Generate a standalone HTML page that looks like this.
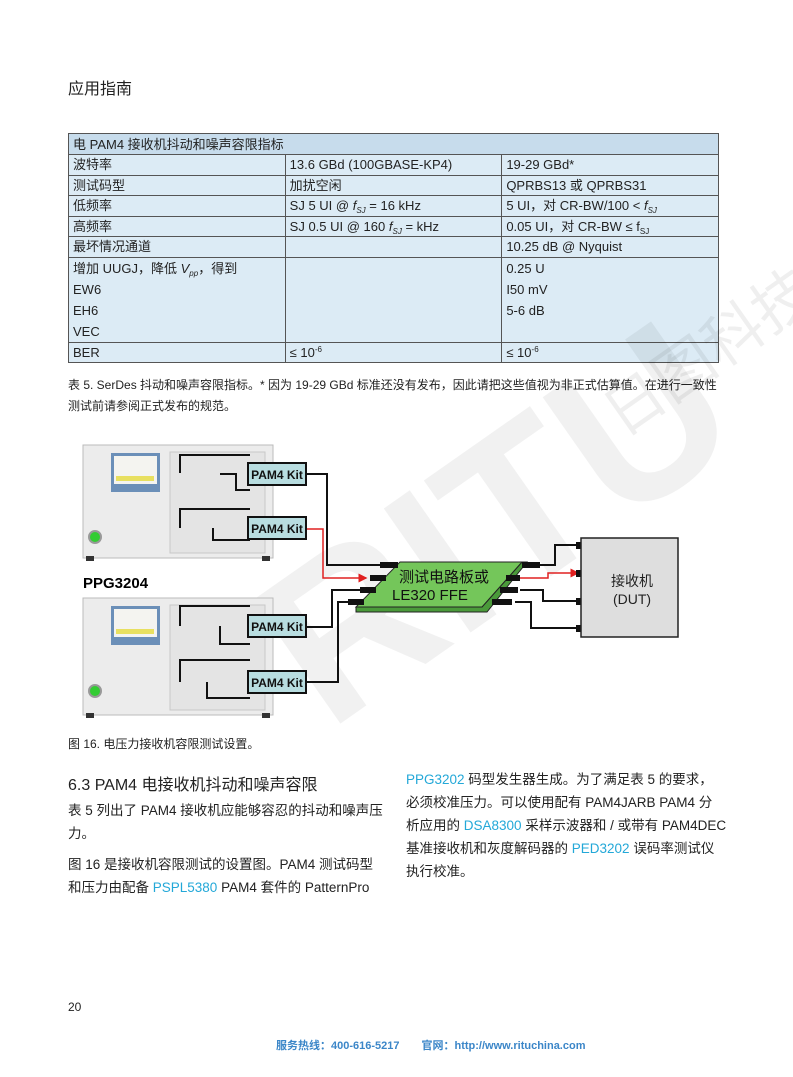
<!DOCTYPE html>
<html><head><meta charset="utf-8">
<style>
body{margin:0;background:#fff;}
#p{position:relative;width:793px;height:1077px;overflow:hidden;font-family:"Liberation Sans","Noto Sans CJK SC",sans-serif;color:#222;}
.a{position:absolute;white-space:nowrap;}
table{position:absolute;left:68px;top:133px;width:651px;border-collapse:collapse;font-size:13px;table-layout:fixed;}
td{border:1.5px solid #555;background:#dcebf5;padding:0 4px;height:19.5px;vertical-align:middle;line-height:19px;overflow:hidden;white-space:nowrap;}
td.h{background:#c7dcec;}
.s{font-size:8px;position:relative;top:3px;line-height:0;}
.u{font-size:8px;position:relative;top:-5px;line-height:0;}
.b{color:#23a8d8;}
.bd{font-size:13.5px;line-height:23px;}
</style></head><body><div id="p">
<div class="a" style="left:68px;top:75px;font-size:16px;">应用指南</div>
<table>
<tr><td class="h" colspan="3" style="height:20px">电 PAM4 接收机抖动和噪声容限指标</td></tr>
<tr><td style="width:208px">波特率</td><td style="width:209px">13.6 GBd (100GBASE-KP4)</td><td>19-29 GBd*</td></tr>
<tr><td>测试码型</td><td>加扰空闲</td><td>QPRBS13 或 QPRBS31</td></tr>
<tr><td>低频率</td><td>SJ 5 UI @ <i>f<span class="s">SJ</span></i> = 16 kHz</td><td>5 UI，对 CR-BW/100 &lt; <i>f<span class="s">SJ</span></i></td></tr>
<tr><td>高频率</td><td>SJ 0.5 UI @ 160 <i>f<span class="s">SJ</span></i> = kHz</td><td>0.05 UI，对 CR-BW ≤ f<span class="s">SJ</span></td></tr>
<tr><td>最坏情况通道</td><td></td><td>10.25 dB @ Nyquist</td></tr>
<tr><td style="vertical-align:top;line-height:21px;height:83px">增加 UUGJ，降低 <i>V<span class="s">pp</span></i>，得到<br>EW6<br>EH6<br>VEC</td><td></td><td style="vertical-align:top;line-height:21px">0.25 U<br>I50 mV<br>5-6 dB</td></tr>
<tr><td>BER</td><td>≤ 10<span class="u">-6</span></td><td>≤ 10<span class="u">-6</span></td></tr>
</table>
<div class="a" style="left:68px;top:375px;font-size:12px;line-height:21px;">表 5. SerDes 抖动和噪声容限指标。* 因为 19-29 GBd 标准还没有发布，因此请把这些值视为非正式估算值。在进行一致性<br>测试前请参阅正式发布的规范。</div>

<svg class="a" style="left:0;top:0" width="793" height="1077">
<defs><marker id="ar" markerWidth="6" markerHeight="6" refX="5" refY="3" orient="auto"><path d="M0,0L6,3L0,6z" fill="#e02020"/></marker></defs>
<g opacity="0.05" fill="#000" font-family="Liberation Sans,sans-serif" font-weight="bold">
<text x="230" y="700" font-size="220" transform="rotate(-35 330 560)">RITU</text>
</g>
<text x="560" y="420" font-size="60" fill="#000" opacity="0.06" font-family="Noto Sans CJK SC,sans-serif" transform="rotate(-35 620 330)">日图科技</text>
<g>
<rect x="83" y="445" width="190" height="113" fill="#ececec" stroke="#bbb"/>
<rect x="111" y="453" width="49" height="39" fill="#6b8fb8"/><rect x="114" y="456" width="43" height="28" fill="#f4f4f0"/>
<rect x="116" y="476" width="38" height="5" fill="#e8e060"/>
<rect x="170" y="452" width="95" height="101" fill="#e4e4e4" stroke="#c8c8c8"/>
<circle cx="95" cy="537" r="6" fill="#3c3" stroke="#999" stroke-width="2"/>
<rect x="86" y="556" width="8" height="5" fill="#333"/><rect x="262" y="556" width="8" height="5" fill="#333"/>
<rect x="83" y="598" width="190" height="117" fill="#ececec" stroke="#bbb"/>
<rect x="111" y="606" width="49" height="39" fill="#6b8fb8"/><rect x="114" y="609" width="43" height="28" fill="#f4f4f0"/>
<rect x="116" y="629" width="38" height="5" fill="#e8e060"/>
<rect x="170" y="605" width="95" height="105" fill="#e4e4e4" stroke="#c8c8c8"/>
<circle cx="95" cy="691" r="6" fill="#3c3" stroke="#999" stroke-width="2"/>
<rect x="86" y="713" width="8" height="5" fill="#333"/><rect x="262" y="713" width="8" height="5" fill="#333"/>
</g>
<g fill="none" stroke="#111" stroke-width="2">
<path d="M180,473V455H250M220,474H236V490H250"/>
<path d="M180,528V509H250M213,528V540H250"/>
<path d="M180,626V606H250M220,626V644H250"/>
<path d="M180,682V660H250M207,682V698H250"/>
<path d="M307,474H327V565H382"/>
<path d="M307,627H332V590H362"/>
<path d="M307,682H338V602H350"/>
<path d="M540,565H555V545H582"/>
<path d="M520,590H543V601H582"/>
<path d="M515,602H531V628H582"/>
</g>
<path d="M307,529H323V578H366" fill="none" stroke="#e02020" stroke-width="1.5" marker-end="url(#ar)"/>
<path d="M515,578H548V573H578" fill="none" stroke="#e02020" stroke-width="1.5" marker-end="url(#ar)"/>
<g fill="#b8dde0" stroke="#111" stroke-width="2">
<rect x="248" y="463" width="58" height="22"/><rect x="248" y="517" width="58" height="22"/>
<rect x="248" y="615" width="58" height="22"/><rect x="248" y="671" width="58" height="22"/>
</g>
<g font-size="12" font-weight="bold" font-family="Liberation Sans,sans-serif" text-anchor="middle" fill="#111">
<text x="277" y="479">PAM4 Kit</text><text x="277" y="533">PAM4 Kit</text><text x="277" y="631">PAM4 Kit</text><text x="277" y="687">PAM4 Kit</text>
</g>
<text x="83" y="588" font-size="15" font-weight="bold" font-family="Liberation Sans,sans-serif">PPG3204</text>
<polygon points="356,607 482,607 522,562 527,562 487,612 356,612" fill="#4a9a3a" stroke="#222"/>
<polygon points="400,562 522,562 482,607 356,607" fill="#74c65a" stroke="#222"/>
<g fill="#111">
<rect x="380" y="562" width="18" height="6"/><rect x="370" y="575" width="16" height="6"/><rect x="360" y="587" width="16" height="6"/><rect x="348" y="599" width="16" height="6"/>
<rect x="522" y="562" width="18" height="6"/><rect x="506" y="575" width="14" height="6"/><rect x="500" y="587" width="18" height="6"/><rect x="492" y="599" width="20" height="6"/>
<rect x="576" y="542" width="6" height="7"/><rect x="576" y="570" width="6" height="7"/><rect x="576" y="598" width="6" height="7"/><rect x="576" y="625" width="6" height="7"/>
</g>
<text x="444" y="582" font-size="15" text-anchor="middle" font-family="Liberation Sans,Noto Sans CJK SC,sans-serif" fill="#111">测试电路板或</text>
<text x="392" y="600" font-size="15" font-family="Liberation Sans,sans-serif" fill="#111">LE320 FFE</text>
<rect x="581" y="538" width="97" height="99" fill="#dedede" stroke="#222" stroke-width="1.5"/>
<text x="632" y="586" font-size="14" text-anchor="middle" font-family="Liberation Sans,Noto Sans CJK SC,sans-serif" fill="#222">接收机</text>
<text x="632" y="604" font-size="14" text-anchor="middle" font-family="Liberation Sans,sans-serif" fill="#222">(DUT)</text>
</svg>

<div class="a" style="left:68px;top:735px;font-size:12px;">图 16. 电压力接收机容限测试设置。</div>
<div class="a" style="left:68px;top:771px;font-size:16px;">6.3 PAM4 电接收机抖动和噪声容限</div>
<div class="a bd" style="left:68px;top:799px;">表 5 列出了 PAM4 接收机应能够容忍的抖动和噪声压<br>力。</div>
<div class="a bd" style="left:68px;top:853px;">图 16 是接收机容限测试的设置图。PAM4 测试码型<br>和压力由配备 <span class="b">PSPL5380</span> PAM4 套件的 PatternPro</div>
<div class="a bd" style="left:406px;top:768px;"><span class="b">PPG3202</span> 码型发生器生成。为了满足表 5 的要求，<br>必须校准压力。可以使用配有 PAM4JARB PAM4 分<br>析应用的 <span class="b">DSA8300</span> 采样示波器和 / 或带有 PAM4DEC<br>基准接收机和灰度解码器的 <span class="b">PED3202</span> 误码率测试仪<br>执行校准。</div>
<div class="a" style="left:68px;top:1000px;font-size:12px;">20</div>
<div class="a" style="left:276px;top:1037px;font-size:11px;font-weight:bold;color:#3b86c8;">服务热线：400-616-5217　　官网：http://www.rituchina.com</div>
</div></body></html>
